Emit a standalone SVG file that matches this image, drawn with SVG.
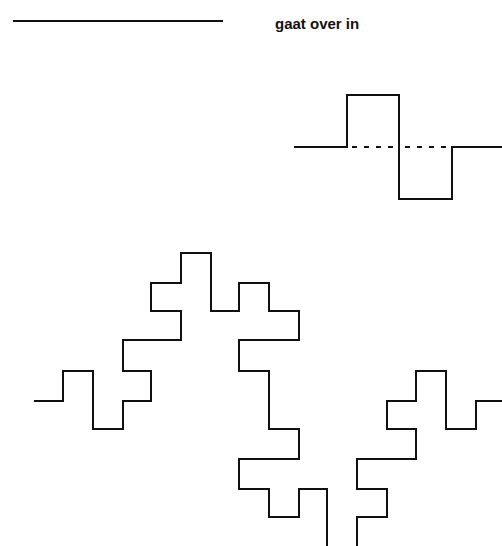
<svg xmlns="http://www.w3.org/2000/svg" width="502" height="546" viewBox="0 0 502 546">
<style>
.ln{fill:none;stroke:#111;stroke-width:2;stroke-linejoin:miter;stroke-linecap:butt}
.dash{fill:none;stroke:#111;stroke-width:2;stroke-dasharray:5 7}
.lbl{font-family:"Liberation Sans",Arial,sans-serif;font-weight:bold;font-size:15px;fill:#111}
</style>
<rect width="502" height="546" fill="#fff"/>
<g id="legend">
<line class="ln" x1="13" y1="21" x2="223" y2="21"/>
<text class="lbl" x="275" y="29">gaat over in</text>
</g>
<g id="generator">
<polyline class="ln" points="294,147 347,147 347,95 399,95 399,199 452,199 452,147 502,147"/>
<line class="dash" x1="352" y1="147" x2="394" y2="147"/>
<line class="dash" x1="405" y1="147" x2="447" y2="147"/>
</g>
<g id="fractal-left">
<polyline class="ln" points="34,401 63,401 63,371 93,371 93,429 123,429 123,401 151,401 151,371 123,371 123,340 181,340 181,311 151,311 151,283 181,283 181,253 211,253 211,311 239,311 239,283 269,283 269,311 299,311 299,340 239,340 239,371 269,371 269,429 299,429 299,459 239,459 239,489 269,489 269,517 299,517 299,489 327,489 327,547"/>
</g>
<g id="fractal-right">
<polyline class="ln" points="357,547 357,517 387,517 387,489 357,489 357,459 416,459 416,429 387,429 387,401 416,401 416,371 446,371 446,429 476,429 476,401 503,401"/>
</g>
</svg>
